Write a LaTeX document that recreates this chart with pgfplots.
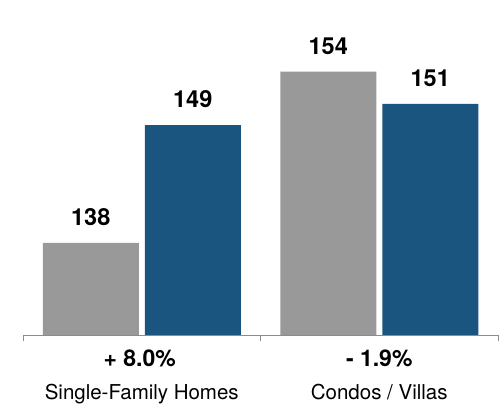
\documentclass[border=0pt]{standalone}
\usepackage{pgfplots}
\pgfplotsset{compat=1.18}
\usepackage{fontspec}
\setmainfont{TeX Gyre Heros}
\definecolor{barGray}{HTML}{999999}
\definecolor{barBlue}{HTML}{1A5580}
\definecolor{axGray}{HTML}{8C8C8C}
\begin{document}
\begin{tikzpicture}[x=1pt,y=1pt]
\useasboundingbox (0,0) rectangle (499,406);
\begin{axis}[
  at={(23pt,71pt)}, anchor=south west,
  scale only axis, width=475pt, height=335pt,
  xmin=-0.5, xmax=1.5, ymin=129.4, ymax=160.7,
  axis y line=none, axis x line*=bottom,
  axis line style={axGray, line width=0.9pt},
  xtick={0,1}, xticklabels={}, major tick length=0pt,
  extra x ticks={-0.5,0.5,1.5}, extra x tick labels={},
  extra x tick style={major tick length=6pt, tick align=outside, tick style={axGray, line width=0.9pt}},
  clip=false,
  /pgf/number format/assume math mode=true,
  ybar, bar width=96pt,
  nodes near coords,
  every node near coord/.append style={anchor=base, yshift=17.5pt, font=\fontsize{23.5}{23.5}\selectfont\bfseries, text=black},
]
\addplot[fill=barGray, draw=none, bar shift=-51pt] coordinates {(0,138) (1,154)};
\addplot[fill=barBlue, draw=none, bar shift=51pt] coordinates {(0,149) (1,151)};
\node[anchor=base, font=\fontsize{23}{23}\selectfont\bfseries] at ([xshift=-2pt,yshift=-31.7pt]axis cs:0,129.4) {+ 8.0\%};
\node[anchor=base, font=\fontsize{23}{23}\selectfont\bfseries] at ([yshift=-31.7pt]axis cs:1,129.4) {- 1.9\%};
\node[anchor=base, font=\fontsize{20.5}{20.5}\selectfont] at ([yshift=-65pt]axis cs:0,129.4) {Single-Family Homes};
\node[anchor=base, font=\fontsize{20.5}{20.5}\selectfont] at ([yshift=-65pt]axis cs:1,129.4) {Condos / Villas};
\end{axis}
\end{tikzpicture}
\end{document}
